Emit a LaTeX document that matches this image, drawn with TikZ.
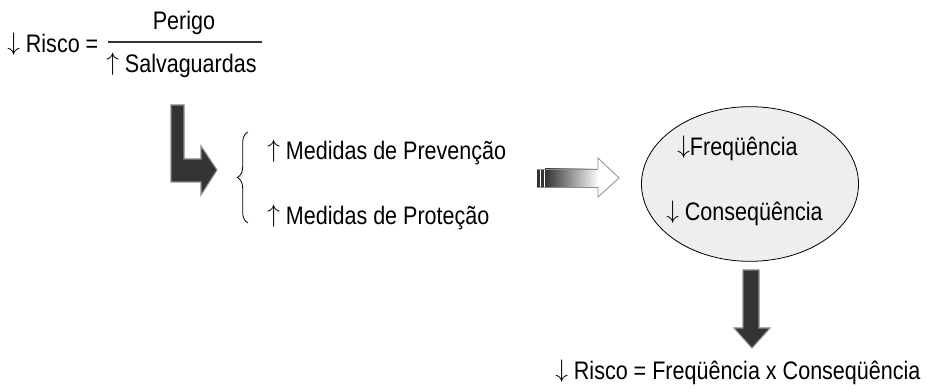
\documentclass[tikz,border=0pt]{standalone}
\usepackage{fontspec}
\setmainfont{Liberation Sans}[FakeStretch=0.85]
\usepackage{tikz}
\usetikzlibrary{positioning,shapes.geometric,decorations.pathreplacing,calc}
\definecolor{rskdark}{HTML}{333333}
\definecolor{rskedge}{HTML}{8C8C8C}
\definecolor{rskfill}{HTML}{EEEEEE}
\newcommand{\rskdn}{\raisebox{1.5pt}{\scalebox{1.1}{$\downarrow$}}}
\newcommand{\rskup}{\raisebox{1.5pt}{\scalebox{1.1}{$\uparrow$}}}

\begin{document}
\begin{tikzpicture}[x=0.75pt, y=-0.75pt,
  txt/.style={inner sep=0pt, anchor=west, font=\fontsize{19}{22}\selectfont},
  blk/.style={fill=rskdark, draw=rskedge, line width=0.8pt, line join=miter},
  ell/.style={ellipse, draw=black, fill=rskfill, line width=0.6pt,
              minimum width=162.75pt, minimum height=116pt, inner sep=0pt}
]
  \useasboundingbox (0,0) rectangle (926,392);

  % risco = perigo / salvaguardas
  \node[txt] (risco) at (7,44) {\rskdn\ Risco =};
  \node[txt, anchor=center] (perigo) at (184,23) {Perigo};
  \node[txt] (salv) at (106,65) {\rskup\ Salvaguardas};
  \coordinate (barl) at (108,42);
  \coordinate (barr) at (262,42);
  \draw[line width=0.8pt, black!80] (barl) -- (barr);

  % bent arrow
  \draw[blk] (171,105) -- (184,105) -- (184,159) -- (201,159) -- (201,146)
    -- (217,170) -- (201,195) -- (201,182) -- (171,182) -- cycle;

  % brace and measures
  \coordinate (brb) at (248,223);
  \coordinate (brt) at (248,132);
  \draw[decorate, decoration={brace, amplitude=8pt}, line width=0.6pt] (brb) -- (brt);
  \node[txt] (prev) at (267,152) {\rskup\ Medidas de Prevenção};
  \node[txt] (prot) at (267,217) {\rskup\ Medidas de Proteção};

  % striped gradient arrow
  \fill[rskdark] (537,169) rectangle (540,187);
  \fill[rskdark] (541,169) rectangle (544,187);
  \shade[left color=rskdark, right color=white] (545,169) rectangle (599,187);
  \draw[draw=rskedge, line width=0.6pt, fill=white] (598,169) -- (598,158) -- (619,178)
    -- (598,197) -- (598,187);
  \draw[rskedge, line width=0.6pt] (537,169) -- (598,169) (537,187) -- (598,187);

  % ellipse
  \node[ell] (oval) at (750,184) {};
  \node[txt] (freq) at (677,148) {\rskdn Freqüência};
  \node[txt] (cons) at (666,213) {\rskdn\ Conseqüência};

  % down arrow
  \draw[blk] (743,270) -- (759,270) -- (759,328) -- (770,328) -- (752,348)
    -- (734,328) -- (743,328) -- cycle;

  \node[txt] (result) at (555,372) {\rskdn\ Risco = Freqüência x Conseqüência};
\end{tikzpicture}
\end{document}
